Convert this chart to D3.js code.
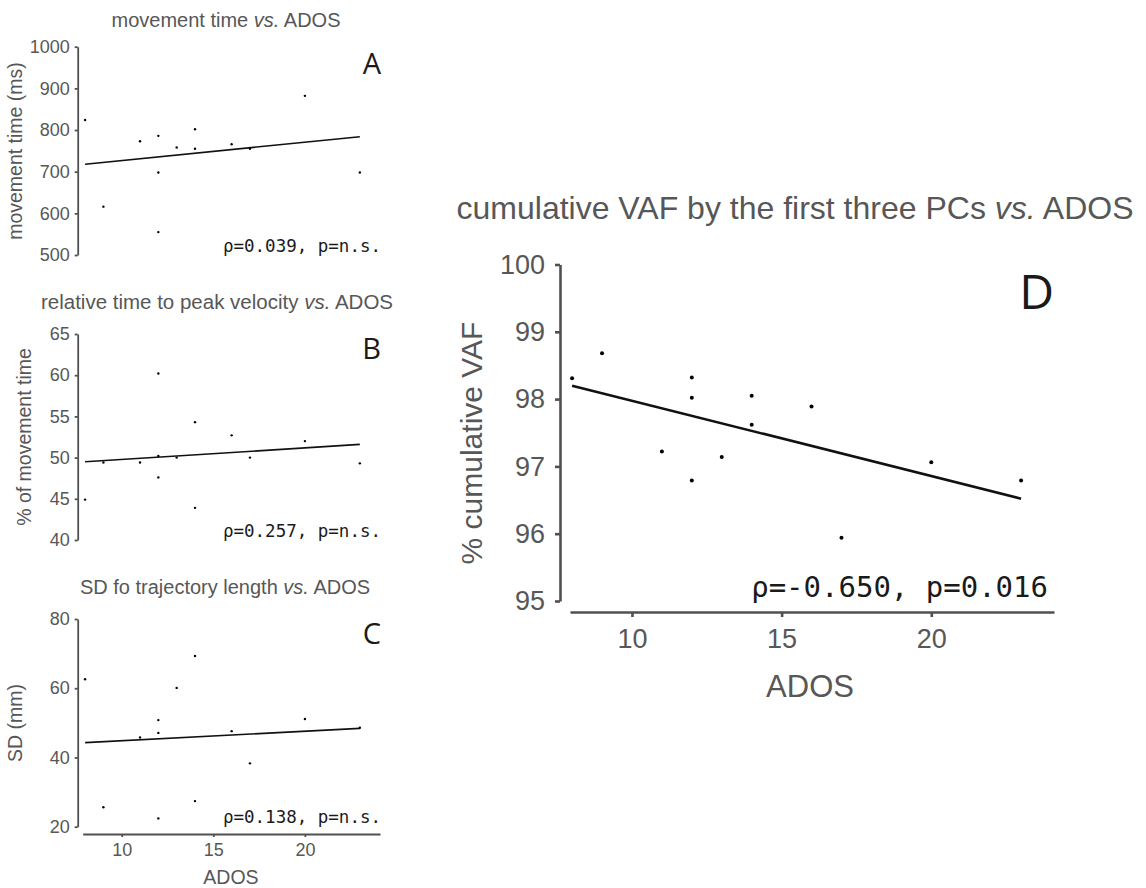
<!DOCTYPE html>
<html>
<head>
<meta charset="utf-8">
<script src="https://cdn.jsdelivr.net/npm/d3@7"></script>
<style>
  body { margin: 0; background: #fff; }
  svg { display: block; }
</style>
</head>
<body>
<svg id="drawing_region"></svg>
<script>
// ADOS score of each participant (same order in every panel)
const ados = [8, 9, 11, 12, 12, 12, 13, 14, 14, 16, 17, 20, 23];

const movementTime = [824, 616, 773, 786, 698, 555, 758, 802, 755, 766, 755, 882, 698];
const peakVelocity = [44.9, 49.4, 49.4, 60.2, 50.2, 47.6, 50.0, 54.3, 43.9, 52.7, 50.0, 52.0, 49.3];
const sdTrajectory = [62.6, 25.6, 45.8, 50.8, 47.1, 22.4, 60.1, 69.3, 27.4, 47.6, 38.3, 51.1, 48.6];
const cumulativeVAF = [98.31, 98.68, 97.22, 98.32, 98.02, 96.79, 97.14, 98.05, 97.62, 97.89, 95.94, 97.06, 96.79];

// regression line, value at ADOS 8 and ADOS 23
const fitX = [8, 23];
const fitA = [718, 784];
const fitB = [49.5, 51.6];
const fitC = [44.3, 48.4];
const fitD = [98.20, 96.52];

// tick labels
const ticksA = [500, 600, 700, 800, 900, 1000];
const ticksB = [40, 45, 50, 55, 60, 65];
const ticksC = [20, 40, 60, 80];
const ticksD = [95, 96, 97, 98, 99, 100];
const ticksX = [10, 15, 20];

const svg = d3.select('#drawing_region')
    .attr('width', 1146)
    .attr('height', 888);

const SANS = '"Liberation Sans", Arial, sans-serif';
const MONO = '"DejaVu Sans Mono", "Liberation Mono", monospace';
const GREY = '#575757';
const AXIS = '#505050';

class ScatterPanel {

    constructor( config, ys, fit ) {
        this.config = config;
        this.data = ados.map( (x, i) => ({x: x, y: ys[i]}) );
        this.fit = fitX.map( (x, i) => ({x: x, y: fit[i]}) );
        this.init();
    }

    init() {
        let self = this;
        const c = self.config;

        self.chart = svg.append('g');

        self.xscale = d3.scaleLinear()
            .domain([c.xDomain[0], c.xDomain[1]])
            .range([c.xRange[0], c.xRange[1]]);

        self.yscale = d3.scaleLinear()
            .domain([c.yTicks[0], c.yTicks[c.yTicks.length - 1]])
            .range([c.yRange[0], c.yRange[1]]);

        self.yaxis = d3.axisLeft( self.yscale )
            .tickValues( c.yTicks )
            .tickFormat( d => d )
            .tickSize( c.tick )
            .tickSizeOuter( 0 )
            .tickPadding( c.pad );
        self.yaxis_group = self.chart.append('g')
            .attr('transform', `translate(${c.yAxisX}, 0)`);

        if (c.showX) {
            self.xaxis = d3.axisBottom( self.xscale )
                .tickValues( ticksX )
                .tickFormat( d => d )
                .tickSize( c.tick )
                .tickSizeOuter( 0 )
                .tickPadding( c.xPad );
            self.xaxis_group = self.chart.append('g')
                .attr('transform', `translate(0, ${c.xAxisY})`);
        }
    }

    update() {
        let self = this;
        self.render();
    }

    render() {
        let self = this;
        const c = self.config;

        self.yaxis_group.call( self.yaxis );
        self.styleAxis( self.yaxis_group );
        if (c.showX) {
            self.xaxis_group.call( self.xaxis );
            self.styleAxis( self.xaxis_group );
        }

        const line = d3.line()
            .x( d => self.xscale(d.x) )
            .y( d => self.yscale(d.y) );

        self.chart.append('path')
            .attr('d', line(self.fit))
            .attr('fill', 'none')
            .attr('stroke', '#111')
            .attr('stroke-width', c.lineWidth);

        self.chart.selectAll('circle')
            .data(self.data)
            .enter()
            .append('circle')
            .attr('cx', d => self.xscale(d.x))
            .attr('cy', d => self.yscale(d.y))
            .attr('r', c.dot)
            .attr('fill', '#000');

        // title
        const title = self.chart.append('text')
            .attr('x', c.title.x)
            .attr('y', c.title.y)
            .attr('text-anchor', 'middle')
            .attr('font-family', SANS)
            .attr('font-size', c.title.size)
            .attr('fill', GREY);
        title.append('tspan').text(c.title.text + ' ');
        title.append('tspan').attr('font-style', 'italic').text('vs.');
        title.append('tspan').text(' ADOS');

        // y label
        self.chart.append('text')
            .attr('transform', `translate(${c.ylabel.x}, ${c.ylabel.y}) rotate(-90)`)
            .attr('text-anchor', 'middle')
            .attr('font-family', SANS)
            .attr('font-size', c.ylabel.size)
            .attr('fill', GREY)
            .text(c.ylabel.text);

        // x label
        if (c.xlabel) {
            self.chart.append('text')
                .attr('x', c.xlabel.x)
                .attr('y', c.xlabel.y)
                .attr('text-anchor', 'middle')
                .attr('font-family', SANS)
                .attr('font-size', c.xlabel.size)
                .attr('fill', GREY)
                .text('ADOS');
        }

        // panel letter
        self.chart.append('text')
            .attr('x', c.letter.x)
            .attr('y', c.letter.y)
            .attr('text-anchor', 'end')
            .attr('font-family', '"Open Sans", sans-serif')
            .attr('font-size', c.letter.size)
            .attr('fill', '#1a1a1a')
            .text(c.letter.text);

        // correlation
        self.chart.append('text')
            .attr('x', c.stat.x)
            .attr('y', c.stat.y)
            .attr('text-anchor', 'end')
            .attr('font-family', MONO)
            .attr('font-size', c.stat.size)
            .attr('fill', '#1a1a1a')
            .text(c.stat.text);
    }

    styleAxis( g ) {
        const c = this.config;
        g.selectAll('path, line')
            .attr('stroke', AXIS)
            .attr('stroke-width', c.axisWidth);
        g.selectAll('text')
            .attr('font-family', SANS)
            .attr('font-size', c.tickSize)
            .attr('fill', GREY);
    }
}

const small = {
    xDomain: [7.87, 24.1], xRange: [82.7, 380],
    yAxisX: 77.7, tick: 3, pad: 5, xPad: 6,
    axisWidth: 1.8, tickSize: 18, lineWidth: 1.6, dot: 1.2
};

const panels = [
    [Object.assign({}, small, {
        yTicks: ticksA, yRange: [255, 46.7],
        title: {text: 'movement time', x: 226, y: 27, size: 20},
        ylabel: {text: 'movement time (ms)', x: 22, y: 151, size: 19.5},
        letter: {text: 'A', x: 381, y: 74, size: 29},
        stat: {text: 'ρ=0.039, p=n.s.', x: 381, y: 252, size: 17.5}
    }), movementTime, fitA],
    [Object.assign({}, small, {
        yTicks: ticksB, yRange: [540, 334],
        title: {text: 'relative time to peak velocity', x: 217, y: 309, size: 20.5},
        ylabel: {text: '% of movement time', x: 31, y: 437, size: 19.5},
        letter: {text: 'B', x: 381, y: 359, size: 29},
        stat: {text: 'ρ=0.257, p=n.s.', x: 381, y: 537, size: 17.5}
    }), peakVelocity, fitB],
    [Object.assign({}, small, {
        yTicks: ticksC, yRange: [826.7, 619],
        showX: true, xAxisY: 834,
        title: {text: 'SD fo trajectory length', x: 225, y: 594, size: 20},
        ylabel: {text: 'SD (mm)', x: 22, y: 723, size: 19.5},
        xlabel: {x: 231, y: 884, size: 19.5},
        letter: {text: 'C', x: 381, y: 644, size: 29},
        stat: {text: 'ρ=0.138, p=n.s.', x: 381, y: 823, size: 17.5}
    }), sdTrajectory, fitC],
    [{
        xDomain: [7.93, 24.1], xRange: [570, 1054],
        yAxisX: 560, tick: 5, pad: 10, xPad: 12,
        axisWidth: 2.6, tickSize: 27, lineWidth: 2.6, dot: 2,
        yTicks: ticksD, yRange: [601, 264.5],
        showX: true, xAxisY: 612,
        title: {text: 'cumulative VAF by the first three PCs', x: 795, y: 219, size: 32},
        ylabel: {text: '% cumulative VAF', x: 482, y: 443, size: 30},
        xlabel: {x: 810, y: 697, size: 31},
        letter: {text: 'D', x: 1054, y: 309, size: 48},
        stat: {text: 'ρ=-0.650, p=0.016', x: 1048, y: 597, size: 29}
    }, cumulativeVAF, fitD]
];

panels.forEach( p => {
    const panel = new ScatterPanel( p[0], p[1], p[2] );
    panel.update();
});
</script>
</body>
</html>
